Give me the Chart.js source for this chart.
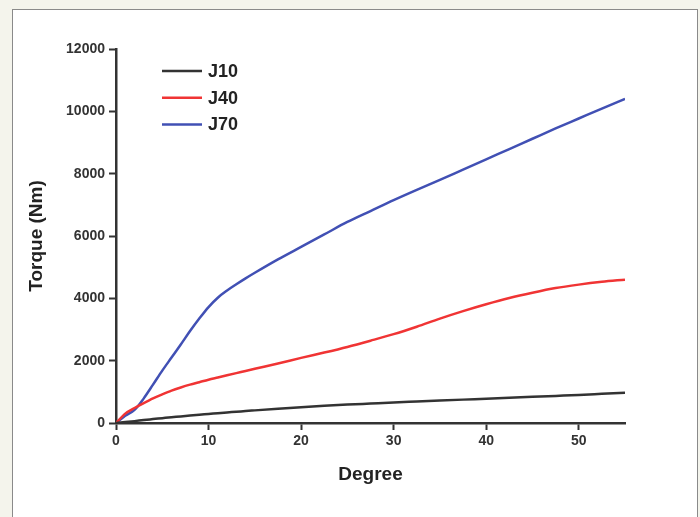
<!DOCTYPE html>
<html>
<head>
<meta charset="utf-8">
<script src="https://cdn.jsdelivr.net/npm/chart.js@4"></script>
<style>
  body { margin: 0; background: #f4f4ec; }
  #wrap { position: relative; width: 700px; height: 517px; overflow: hidden; }
  #panel {
    position: absolute; left: 12px; top: 9px; width: 684px; height: 530px;
    background: #fff; border: 1.5px solid #8a8a8a;
  }
  #my-canvas { position: absolute; left: 0; top: 0; }
</style>
</head>
<body>
<div id="wrap">
  <div id="panel"></div>
  <canvas id="my-canvas" width="700" height="517"></canvas>
</div>
<script>
const degrees = [0, 1, 2, 3, 4, 5, 6, 7, 8, 9, 10, 11, 12, 13, 14, 15, 17.5, 20, 22.5, 25, 27.5, 30, 32.5, 35, 37.5, 40, 42.5, 45, 47.5, 50, 52.5, 55];
const j10 = [0, 30, 60, 95, 125, 155, 185, 210, 240, 265, 290, 315, 340, 360, 385, 405, 455, 505, 550, 590, 625, 660, 690, 720, 750, 780, 810, 840, 870, 900, 935, 970];
const j40 = [0, 300, 480, 640, 790, 920, 1040, 1140, 1230, 1310, 1390, 1460, 1530, 1600, 1670, 1740, 1910, 2090, 2260, 2440, 2640, 2850, 3090, 3350, 3590, 3810, 4010, 4180, 4330, 4440, 4530, 4600];
const j70 = [0, 230, 420, 790, 1230, 1680, 2100, 2520, 2950, 3350, 3720, 4020, 4250, 4450, 4640, 4820, 5250, 5650, 6050, 6450, 6800, 7150, 7480, 7800, 8130, 8460, 8790, 9120, 9450, 9770, 10090, 10400];
const seriesNames = ['J10', 'J40', 'J70'];
const xTicks = [0, 10, 20, 30, 40, 50];
const yTicks = [0, 2000, 4000, 6000, 8000, 10000, 12000];

const toPoints = values => values.map((v, i) => ({ x: degrees[i], y: v }));

const colors = ['#333333', '#f03434', '#4150b4'];

// legend drawn inside the plot, top left
const innerLegend = {
  id: 'innerLegend',
  afterDatasetsDraw(chart) {
    const { ctx, chartArea } = chart;
    const x0 = chartArea.left + 46;
    let y = chartArea.top + 22;
    ctx.save();
    ctx.font = 'bold 18px "Liberation Sans", Arial, sans-serif';
    ctx.textBaseline = 'middle';
    chart.data.datasets.forEach(ds => {
      ctx.strokeStyle = ds.borderColor;
      ctx.lineWidth = 2.5;
      ctx.beginPath();
      ctx.moveTo(x0, y);
      ctx.lineTo(x0 + 40, y);
      ctx.stroke();
      ctx.fillStyle = '#222';
      ctx.fillText(ds.label, x0 + 46, y + 1);
      y += 26.7;
    });
    ctx.restore();
  },
};

const tickFont = { family: '"Liberation Sans", Arial, sans-serif', size: 14, weight: 'bold' };
const titleFont = { family: '"Liberation Sans", Arial, sans-serif', size: 19, weight: 'bold' };

const config = {
  type: 'line',
  data: {
    datasets: [j10, j40, j70].map((vals, i) => ({
      label: seriesNames[i],
      data: toPoints(vals),
      borderColor: colors[i],
      borderWidth: 2.5,
      pointRadius: 0,
      fill: false,
      cubicInterpolationMode: 'monotone',
    })),
  },
  options: {
    responsive: false,
    animation: false,
    layout: { padding: { top: 49, right: 75, left: 0, bottom: 0 } },
    plugins: {
      legend: { display: false },
      tooltip: { enabled: false },
    },
    scales: {
      x: {
        type: 'linear',
        min: 0,
        max: 55,
        afterBuildTicks: scale => {
          scale.ticks = xTicks.map(v => ({ value: v }));
        },
        afterFit: scale => {
          scale.height = 94;
        },
        border: { display: true, color: '#333', width: 2.5 },
        grid: { drawOnChartArea: false, drawTicks: true, tickLength: 7, color: '#333', tickWidth: 2 },
        ticks: { font: tickFont, color: '#333', padding: 3, callback: v => String(v) },
        title: { display: true, text: 'Degree', font: titleFont, color: '#222', padding: { top: 0, bottom: 31 } },
      },
      y: {
        min: 0,
        max: 12000,
        afterBuildTicks: scale => {
          scale.ticks = yTicks.map(v => ({ value: v }));
        },
        afterFit: scale => {
          scale.width = 116;
        },
        border: { display: true, color: '#333', width: 2.5 },
        grid: { drawOnChartArea: false, drawTicks: true, tickLength: 7, color: '#333', tickWidth: 2 },
        ticks: { font: tickFont, color: '#333', padding: 4, callback: v => String(v) },
        title: { display: true, text: 'Torque (Nm)', font: titleFont, color: '#222', padding: { top: 25 } },
      },
    },
  },
  plugins: [innerLegend],
};

new Chart('my-canvas', config);
</script>
</body>
</html>
